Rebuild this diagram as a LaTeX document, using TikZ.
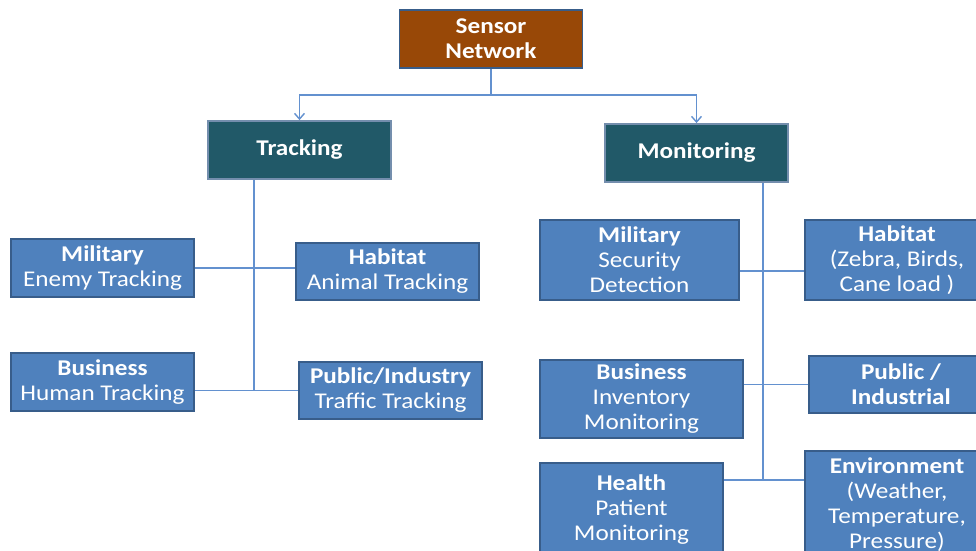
\documentclass[tikz,border=0pt]{standalone}
\usepackage{fontspec}
\setmainfont{Carlito}[FakeStretch=1.12]
\usetikzlibrary{arrows.meta,positioning}

\definecolor{rootbrown}{HTML}{984807}
\definecolor{branchteal}{HTML}{215968}
\definecolor{leafblue}{HTML}{4F81BD}
\definecolor{edgeblue}{HTML}{385D8A}
\definecolor{linkblue}{HTML}{6391CF}

\begin{document}
\begin{tikzpicture}[x=0.025cm,y=-0.025cm,>={Straight Barb[length=4pt,width=7pt]}]
    \tikzset{block/.style={
      draw=edgeblue,
      line width=1.3pt,
      rectangle,
      align=center,
      text=white,
      inner sep=0pt,
      font=\fontsize{16}{17.8}\selectfont,
      minimum width=4.575cm,
      minimum height=1.45cm
    }};
    \tikzset{rootbox/.style={block, fill=rootbrown, font=\fontsize{16}{17.8}\selectfont\bfseries}};
    \tikzset{branch/.style={block, fill=branchteal, draw=edgeblue!70, font=\fontsize{16}{17.8}\selectfont\bfseries}};
    \tikzset{leaf/.style={block, fill=leafblue}};
    \tikzset{link/.style={draw=linkblue, line width=1pt}};

    \useasboundingbox (0,0) rectangle (976,551);
    \clip (0,0) rectangle (976,551);

    \node [rootbox] (root) at (491,39) {Sensor\\Network};
    \node [branch] (track) at (299.5,150) {Tracking};
    \node [branch] (monit) at (696.5,153) {Monitoring};

    % tracking side
    \node [leaf] (milT) at (102.5,268) {\textbf{Military}\\Enemy Tracking};
    \node [leaf, minimum height=1.425cm] (habT) at (387.5,271.5) {\textbf{Habitat}\\Animal Tracking};
    \node [leaf] (busT) at (102.5,382) {\textbf{Business}\\Human Tracking};
    \node [leaf, minimum height=1.425cm] (pubT) at (390.5,390.5) {\textbf{Public/Industry}\\Traffic Tracking};

    % monitoring side
    \node [leaf, minimum width=4.975cm, minimum height=2cm] (milM) at (639.5,260) {\textbf{Military}\\Security\\Detection};
    \node [leaf, minimum width=4.6cm, minimum height=2cm] (habM) at (897,260) {\textbf{Habitat}\\(Zebra, Birds,\\Cane load )};
    \node [leaf, minimum width=5.075cm, minimum height=1.95cm] (busM) at (641.5,399) {\textbf{Business}\\Inventory\\Monitoring};
    \node [leaf, minimum width=4.6cm, minimum height=1.425cm, font=\fontsize{16}{17.8}\selectfont\bfseries] (pubM) at (901,384.5) {Public /\\Industrial};
    \node [leaf, minimum height=2.35cm] (healthM) at (631.5,510) {\textbf{Health}\\Patient\\Monitoring};
    \node [leaf, minimum width=4.6cm, minimum height=2.7cm] (envM) at (897,505) {\textbf{Environment}\\(Weather,\\Temperature,\\Pressure)};

    \coordinate (split) at (491,95);
    \coordinate (tEnd) at (254,390);
    \coordinate (mEnd) at (763,480);

    \path[link,->] (root.south) -- (split) -| (track.north);
    \path[link,->] (root.south) -- (split) -| (monit.north);

    \path[link] (track.south -| tEnd) -- (tEnd)
      (milT.east) -- (habT.west |- milT.east)
      (busT.east |- pubT.west) -- (pubT.west);

    \path[link] (monit.south -| mEnd) -- (mEnd)
      ([yshift=-0.28cm]milM.east) -- ([yshift=-0.28cm]habM.west)
      (busM.east |- pubM.west) -- (pubM.west)
      (healthM.east |- mEnd) -- (envM.west |- mEnd);
  \end{tikzpicture}
\end{document}
